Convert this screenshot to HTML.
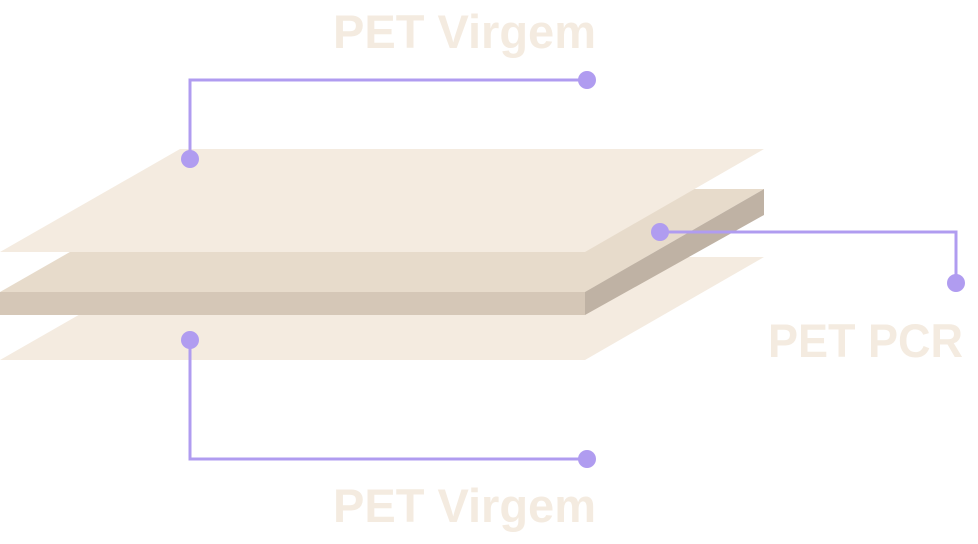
<!DOCTYPE html>
<html><head><style>html,body{margin:0;padding:0;background:#fff;}svg{display:block}</style></head>
<body>
<svg width="978" height="544" viewBox="0 0 978 544" xmlns="http://www.w3.org/2000/svg">
<g font-family="Liberation Sans, sans-serif" font-weight="bold" font-size="47" fill="#f4ebe0">
<text x="333" y="48" textLength="263" lengthAdjust="spacingAndGlyphs">PET Virgem</text>
<text x="768" y="357" textLength="195" lengthAdjust="spacingAndGlyphs">PET PCR</text>
<text x="333" y="522" textLength="263" lengthAdjust="spacingAndGlyphs">PET Virgem</text>
</g>
<polygon points="0,360 180,257 764,257 585,360" fill="#f4ebe0"/>
<polygon points="0,292 180,189 764,189 585,292" fill="#e7dbcb"/>
<polygon points="0,292 585,292 585,315 0,315" fill="#d5c7b7"/>
<polygon points="585,292 764,189 764,215 585,315" fill="#bfb2a4"/>
<polygon points="0,252 180,149 764,149 585,252" fill="#f4ebe0"/>
<g stroke="#b09cf0" stroke-width="3" fill="none">
<polyline points="190,159 190,80 587,80"/>
<polyline points="660,232 956,232 956,283"/>
<polyline points="190,340 190,459 587,459"/>
</g>
<g fill="#b09cf0">
<circle cx="190" cy="159" r="9"/><circle cx="587" cy="80" r="9"/>
<circle cx="660" cy="232" r="9"/><circle cx="956" cy="283" r="9"/>
<circle cx="190" cy="340" r="9"/><circle cx="587" cy="459" r="9"/>
</g>
</svg>
</body></html>
